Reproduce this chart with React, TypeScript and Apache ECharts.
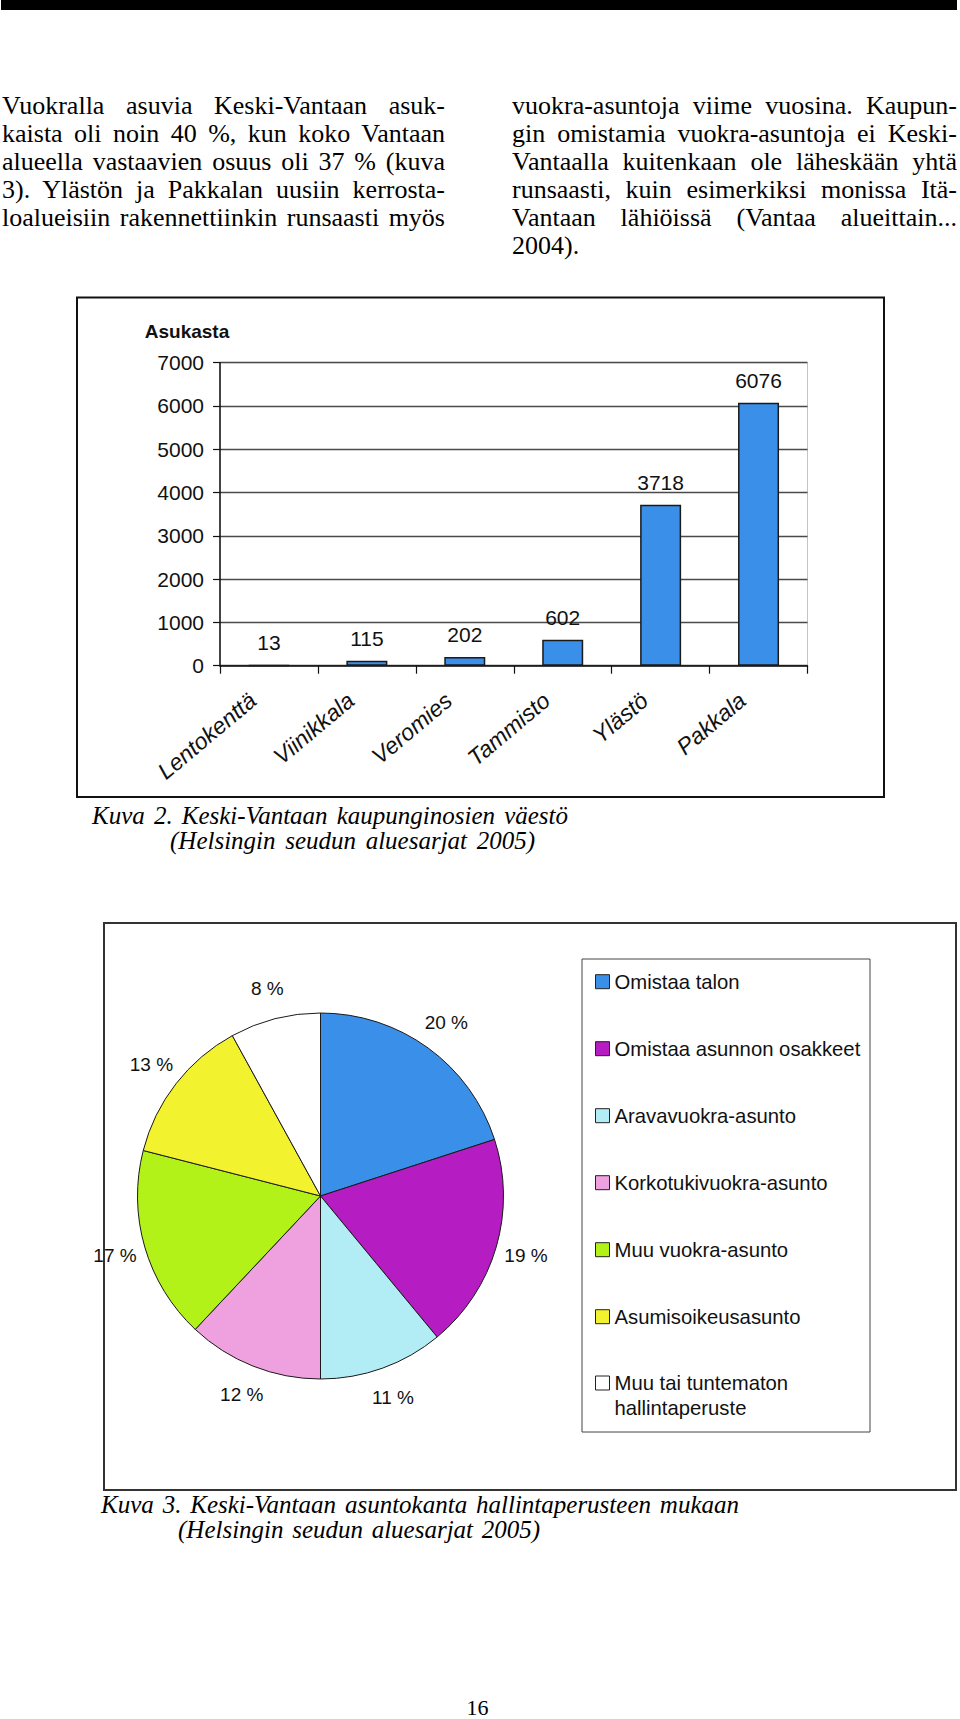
import React, { useEffect, useRef } from "react";
import * as echarts from "echarts";

// ---- Data: Kuva 2 (bar chart) ----
const districts = ["Lentokenttä", "Viinikkala", "Veromies", "Tammisto", "Ylästö", "Pakkala"];
const residents = [13, 115, 202, 602, 3718, 6076];
const yAxisTitle = "Asukasta";

// ---- Data: Kuva 3 (pie chart) ----
const tenureTypes = [
  "Omistaa talon",
  "Omistaa asunnon osakkeet",
  "Aravavuokra-asunto",
  "Korkotukivuokra-asunto",
  "Muu vuokra-asunto",
  "Asumisoikeusasunto",
  "Muu tai tuntematon\nhallintaperuste",
];
const tenureShares = [20, 19, 11, 12, 17, 13, 8];
const tenureColors = ["#3a8fe8", "#b51cc1", "#b2ecf4", "#efa0df", "#b3f218", "#f3f22e", "#ffffff"];

// ---- Page text ----
const leftLines = [
  "Vuokralla asuvia Keski-Vantaan asuk-",
  "kaista oli noin 40 %, kun koko Vantaan",
  "alueella vastaavien osuus oli 37 % (kuva",
  "3). Ylästön ja Pakkalan uusiin kerrosta-",
  "loalueisiin rakennettiinkin runsaasti myös",
];
const rightLines = [
  "vuokra-asuntoja viime vuosina. Kaupun-",
  "gin omistamia vuokra-asuntoja ei Keski-",
  "Vantaalla kuitenkaan ole läheskään yhtä",
  "runsaasti, kuin esimerkiksi monissa Itä-",
  "Vantaan lähiöissä (Vantaa alueittain...",
  "2004).",
];
const caption2 = ["Kuva 2. Keski-Vantaan kaupunginosien väestö", "(Helsingin seudun aluesarjat 2005)"];
const caption3 = ["Kuva 3. Keski-Vantaan asuntokanta hallintaperusteen mukaan", "(Helsingin seudun aluesarjat 2005)"];
const pageNumber = "16";

const SANS = "Arial, 'Liberation Sans', sans-serif";
const SERIF = "'Liberation Serif', 'Times New Roman', serif";

function buildOption(): any {
  return {
    animation: false,
    backgroundColor: "#ffffff",
    graphic: [
      { type: "rect", shape: { x: 1, y: 0, width: 956, height: 10 }, style: { fill: "#000" }, silent: true },
      { type: "rect", shape: { x: 77, y: 297.5, width: 807, height: 499.5 }, style: { fill: "none", stroke: "#111", lineWidth: 2 }, silent: true },
      { type: "rect", shape: { x: 104, y: 923, width: 852, height: 567 }, style: { fill: "none", stroke: "#333", lineWidth: 2 }, silent: true },
      { type: "rect", shape: { x: 582, y: 959, width: 288, height: 473 }, style: { fill: "none", stroke: "#444", lineWidth: 1 }, silent: true },
    ],
    grid: {
      left: 220,
      top: 362.7,
      width: 587.5,
      height: 303,
      show: true,
      borderColor: "#c4c4c4",
      borderWidth: 1,
      backgroundColor: "transparent",
    },
    xAxis: {
      type: "category",
      data: districts,
      boundaryGap: true,
      axisLine: { show: true, lineStyle: { color: "#111", width: 1.5 } },
      axisTick: { show: true, alignWithLabel: false, length: 8, lineStyle: { color: "#111", width: 1.2 } },
      axisLabel: {
        interval: 0,
        rotate: 40,
        margin: 18,
        padding: [0, 21, 0, 0],
        fontSize: 23,
        fontStyle: "italic",
        fontFamily: SANS,
        color: "#111",
      },
      splitLine: { show: false },
    },
    yAxis: {
      type: "value",
      min: 0,
      max: 7000,
      interval: 1000,
      name: yAxisTitle,
      nameLocation: "end",
      nameGap: 22,
      nameTextStyle: {
        fontSize: 19,
        fontWeight: "bold",
        fontFamily: SANS,
        color: "#111",
        align: "center",
        padding: [0, 66, 0, 0],
      },
      axisLine: { show: true, lineStyle: { color: "#111", width: 1.5 } },
      axisTick: { show: true, inside: false, length: 7, lineStyle: { color: "#111", width: 1.2 } },
      axisLabel: {
        margin: 16,
        fontSize: 21,
        fontFamily: SANS,
        color: "#111",
        formatter: (v: number) => String(v),
      },
      splitLine: { show: true, lineStyle: { color: "#4a4a4a", width: 1.3 } },
    },
    legend: [
      {
        orient: "vertical",
        left: 595,
        top: 971.7,
        padding: 0,
        itemWidth: 14,
        itemHeight: 14,
        itemGap: 47,
        icon: "rect",
        selectedMode: false,
        data: tenureTypes.slice(0, 6),
        itemStyle: { borderColor: "#222", borderWidth: 1 },
        textStyle: { fontSize: 20.3, lineHeight: 20, color: "#111", fontFamily: SANS },
      },
      {
        orient: "vertical",
        left: 595,
        top: 1345.5,
        padding: 0,
        itemWidth: 14,
        itemHeight: 14,
        icon: "rect",
        selectedMode: false,
        data: tenureTypes.slice(6),
        formatter: (name: string) => " \n" + name,
        itemStyle: { borderColor: "#222", borderWidth: 1 },
        textStyle: { fontSize: 20.3, lineHeight: 25, color: "#111", fontFamily: SANS },
      },
    ],
    series: [
      {
        type: "bar",
        data: residents,
        barWidth: 41,
        itemStyle: { color: "#3a8fe8", borderColor: "#1a1a1a", borderWidth: 1.5 },
        label: {
          show: true,
          position: "top",
          distance: 12,
          fontSize: 21,
          fontFamily: SANS,
          color: "#111",
        },
        silent: true,
      },
      {
        type: "pie",
        center: [320.5, 1196],
        radius: 183,
        startAngle: 90,
        clockwise: true,
        avoidLabelOverlap: false,
        silent: true,
        label: { show: false },
        labelLine: { show: false },
        itemStyle: { borderColor: "#1a1a1a", borderWidth: 1 },
        data: tenureTypes.map((name, i) => ({
          name,
          value: tenureShares[i],
          itemStyle: { color: tenureColors[i] },
        })),
      },
      {
        type: "pie",
        center: [320.5, 1196],
        radius: [195, 227],
        startAngle: 90,
        clockwise: true,
        avoidLabelOverlap: false,
        silent: true,
        itemStyle: { color: "rgba(0,0,0,0)", borderWidth: 0 },
        emphasis: { disabled: true },
        label: {
          show: true,
          position: "inside",
          formatter: "{c} %",
          fontSize: 19,
          fontFamily: SANS,
          color: "#111",
        },
        labelLine: { show: false },
        data: tenureShares.map((v, i) => ({ name: "share-" + i, value: v })),
      },
    ],
  };
}

const lineStyle = (left: number, top: number, width: number, justify = true): React.CSSProperties => ({
  position: "absolute",
  left,
  top,
  width,
  fontFamily: SERIF,
  fontSize: 26,
  lineHeight: "28px",
  color: "#000",
  textAlign: justify ? "justify" : "left",
  textAlignLast: justify ? "justify" : "left",
  margin: 0,
});

const capStyle = (left: number, top: number, width: number): React.CSSProperties => ({
  position: "absolute",
  left,
  top,
  width,
  fontFamily: SERIF,
  fontStyle: "italic",
  fontSize: 25,
  lineHeight: "25px",
  color: "#000",
  textAlign: "justify",
  textAlignLast: "justify",
});

export default function App() {
  const ref = useRef<HTMLDivElement>(null);
  useEffect(() => {
    if (!ref.current) return;
    const chart = echarts.init(ref.current, null, { renderer: "svg", width: 960, height: 1719 });
    chart.setOption(buildOption());
    return () => chart.dispose();
  }, []);

  return (
    <div style={{ position: "absolute", left: 0, top: 0, width: 960, height: 1719, background: "#fff", overflow: "hidden" }}>
      <div ref={ref} style={{ position: "absolute", left: 0, top: 0, width: 960, height: 1719 }} />
      {leftLines.map((t, i) => (
        <div key={"l" + i} style={lineStyle(2, 92.2 + 28 * i, 443)}>{t}</div>
      ))}
      {rightLines.map((t, i) => (
        <div key={"r" + i} style={lineStyle(512, 92.2 + 28 * i, 445, i < rightLines.length - 1)}>{t}</div>
      ))}
      <div style={capStyle(92, 803, 476)}>{caption2[0]}</div>
      <div style={capStyle(170, 828, 365)}>{caption2[1]}</div>
      <div style={capStyle(101, 1492, 638)}>{caption3[0]}</div>
      <div style={capStyle(178, 1517, 362)}>{caption3[1]}</div>
      <div
        style={{
          position: "absolute",
          left: 440,
          top: 1696.6,
          width: 75,
          textAlign: "center",
          fontFamily: SERIF,
          fontSize: 22,
          lineHeight: "22px",
          color: "#000",
        }}
      >
        {pageNumber}
      </div>
    </div>
  );
}
